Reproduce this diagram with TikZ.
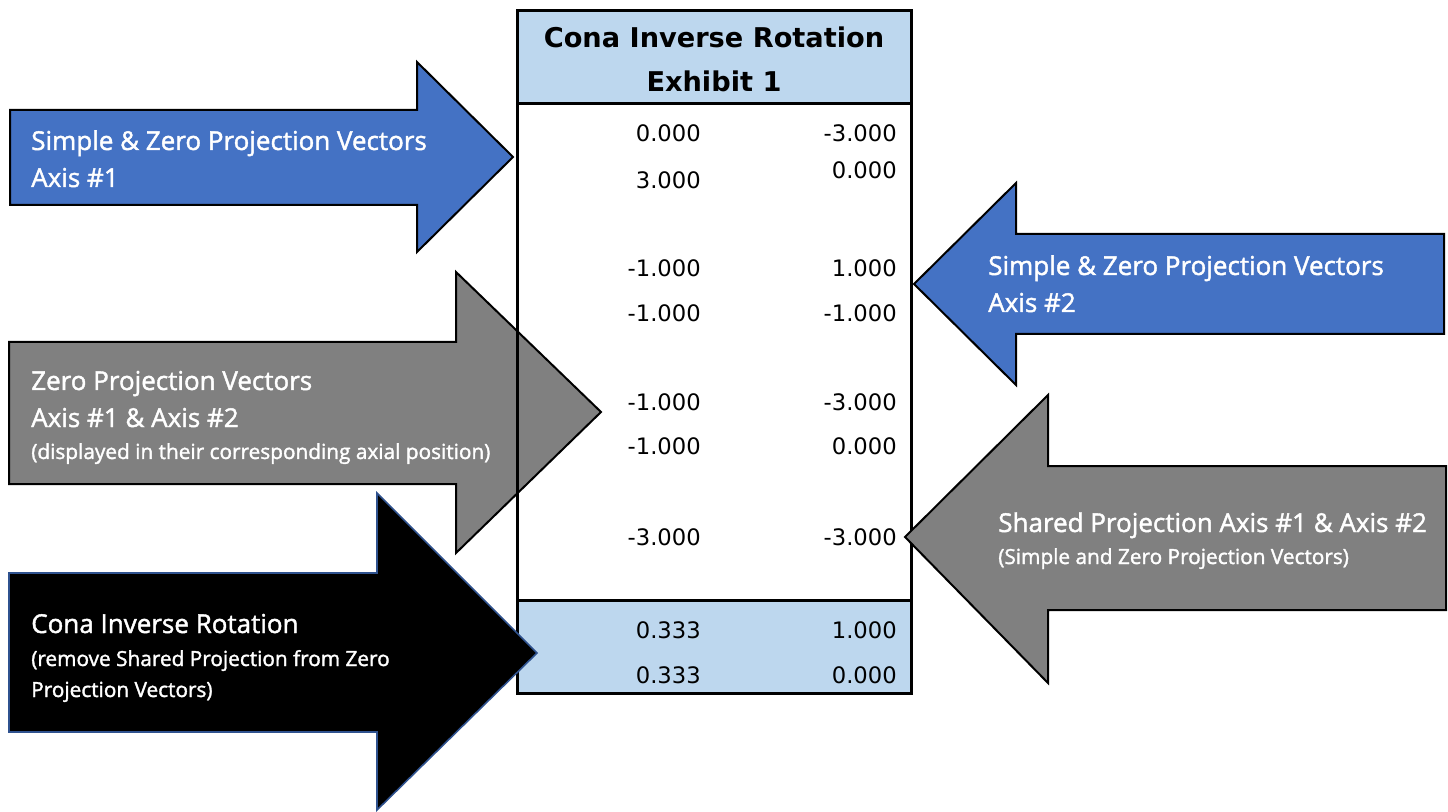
\documentclass[tikz,border=0pt]{standalone}
\usepackage{fontspec}
\newfontfamily\arrowfont{Open Sans}[FakeBold=1.6]
\newfontfamily\numfont{DejaVu Sans}
\definecolor{arrowblue}{HTML}{4472C4}
\definecolor{arrowgray}{HTML}{808080}
\definecolor{bandblue}{HTML}{BDD7EE}
\definecolor{edgeblue}{HTML}{2F528F}
\begin{document}
\begin{tikzpicture}[x=0.75pt,y=-0.75pt,
  lbl/.style={anchor=base west, inner sep=0pt, text=white, font=\arrowfont\fontsize{19.5}{23}\selectfont},
  sublbl/.style={lbl, font=\arrowfont\fontsize{15.6}{18}\selectfont},
  num/.style={anchor=east, inner sep=0pt, font=\numfont\fontsize{17}{20}\selectfont},
  ttl/.style={anchor=base, inner sep=0pt, font=\numfont\bfseries\fontsize{20.4}{24}\selectfont},
  bluearrow/.style={fill=arrowblue, draw=black, line width=1.5pt, line join=miter},
  grayarrow/.style={fill=arrowgray, draw=black, line width=1.5pt, line join=miter},
  blackarrow/.style={fill=black, draw=edgeblue, line width=1.2pt, line join=miter},
  band/.style={fill=bandblue, draw=none},
  tableline/.style={draw=black, line width=2.25pt}
]
\useasboundingbox (0,0) rectangle (1448,812);

% table fills
\fill[band] (517,11) rectangle (911,104);
\fill[band] (517,600) rectangle (911,693);

% gray arrow (under table lines)
\draw[grayarrow] (9,342) -- (456,342) -- (456,272) -- (601,412) -- (456,553) -- (456,484) -- (9,484) -- cycle;

% table lines
\draw[tableline] (517,11) rectangle (911,693);
\draw[tableline] (517,104) -- (911,104);
\draw[tableline] (517,600) -- (911,600);

% black arrow
\draw[blackarrow] (9,573) -- (377,573) -- (377,493) -- (537,653) -- (377,810) -- (377,732) -- (9,732) -- cycle;

% blue arrows
\draw[bluearrow] (10,110) -- (417,110) -- (417,62) -- (513,157) -- (417,252) -- (417,205) -- (10,205) -- cycle;
\draw[bluearrow] (1444,234) -- (1016,234) -- (1016,183) -- (914,284) -- (1016,385) -- (1016,334) -- (1444,334) -- cycle;

% right gray arrow
\draw[grayarrow] (1446,466) -- (1048,466) -- (1048,395) -- (905,537) -- (1048,683) -- (1048,610) -- (1446,610) -- cycle;

% title
\node[ttl] (t1) at (714,48) {Cona Inverse Rotation};
\node[ttl] (t2) at (714,92) {Exhibit 1};

% numbers
\node[num] (a1) at (701,133) {0.000};
\node[num] (b1) at (897,133) {-3.000};
\node[num] (a2) at (701,180) {3.000};
\node[num] (b2) at (897,170) {0.000};
\node[num] (a3) at (701,268) {-1.000};
\node[num] (b3) at (897,268) {1.000};
\node[num] (a4) at (701,313) {-1.000};
\node[num] (b4) at (897,313) {-1.000};
\node[num] (a5) at (701,402) {-1.000};
\node[num] (b5) at (897,402) {-3.000};
\node[num] (a6) at (701,446) {-1.000};
\node[num] (b6) at (897,446) {0.000};
\node[num] (a7) at (701,537) {-3.000};
\node[num] (b7) at (897,537) {-3.000};
\node[num] (a8) at (701,630) {0.333};
\node[num] (b8) at (897,630) {1.000};
\node[num] (a9) at (701,675) {0.333};
\node[num] (b9) at (897,675) {0.000};

% arrow labels
\node[lbl] (l1a) at (31,150) {Simple \& Zero Projection Vectors};
\node[lbl] (l1b) at (31,187) {Axis \#1};
\node[lbl] (l2a) at (988,275) {Simple \& Zero Projection Vectors};
\node[lbl] (l2b) at (988,312) {Axis \#2};
\node[lbl] (l3a) at (31,390) {Zero Projection Vectors};
\node[lbl] (l3b) at (31,427) {Axis \#1 \& Axis \#2};
\node[sublbl] (l3c) at (31,459) {(displayed in their corresponding axial position)};
\node[lbl] (l4a) at (998,532) {Shared Projection Axis \#1 \& Axis \#2};
\node[sublbl] (l4b) at (998,564) {(Simple and Zero Projection Vectors)};
\node[lbl] (l5a) at (31,633) {Cona Inverse Rotation};
\node[sublbl] (l5b) at (31,666) {(remove Shared Projection from Zero};
\node[sublbl] (l5c) at (31,697) {Projection Vectors)};
\end{tikzpicture}
\end{document}
